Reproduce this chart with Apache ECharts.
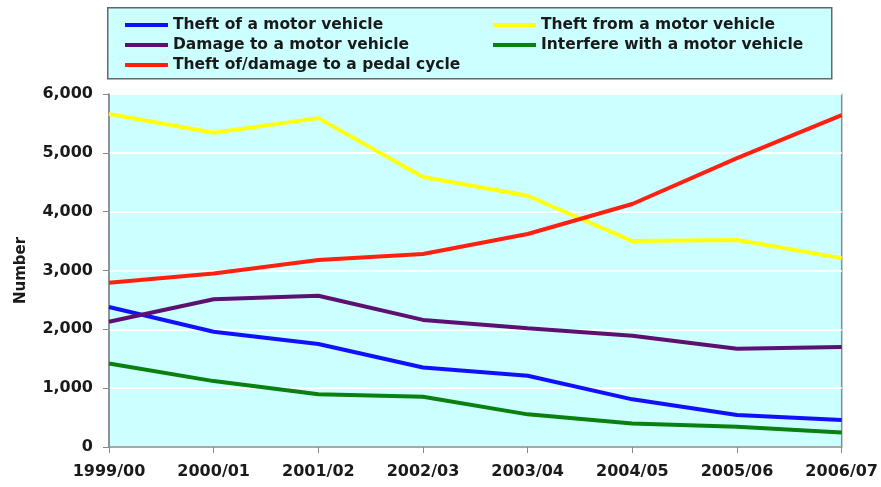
<!DOCTYPE html>
<html>
<head>
<meta charset="utf-8">
<script src="https://cdn.jsdelivr.net/npm/echarts@6/dist/echarts.min.js"></script>
<style>
html,body{margin:0;padding:0;background:#fff;}
#c{width:881px;height:487px;}
</style>
</head>
<body>
<div id="c"></div>
<script>
const categories = ['1999/00','2000/01','2001/02','2002/03','2003/04','2004/05','2005/06','2006/07'];
const theftOfMotor   = [2380, 1960, 1750, 1350, 1210, 810, 545, 460];
const theftFromMotor = [5660, 5340, 5590, 4590, 4270, 3500, 3520, 3210];
const damageMotor    = [2130, 2510, 2570, 2160, 2020, 1890, 1670, 1700];
const interfereMotor = [1420, 1120, 895, 855, 555, 400, 345, 245];
const pedalCycle     = [2790, 2950, 3180, 3280, 3620, 4130, 4910, 5640];
const yTicks = [0, 1000, 2000, 3000, 4000, 5000, 6000];

const FONT = 'DejaVu Sans';
const chart = echarts.init(document.getElementById('c'), null, {renderer:'canvas'});

function mk(name, data, color){
  return {name, type:'line', data, symbol:'none', smooth:false,
    lineStyle:{color, width:4}, itemStyle:{color}, z:3};
}

const legendText = {fontFamily:FONT, fontWeight:'bold', fontSize:15.5, color:'#1a1a1a', lineHeight:16};

chart.setOption({
  animation:false,
  backgroundColor:'#ffffff',
  graphic:[{type:'rect', left:107, top:7, z:-1,
    shape:{width:724, height:71},
    style:{fill:'#ccffff', stroke:'#666666', lineWidth:1.5}}],
  legend:[
    {orient:'vertical', left:120, top:12, itemWidth:43, itemHeight:4, itemGap:4, icon:'rect',
     textStyle:legendText,
     data:['Theft of a motor vehicle','Damage to a motor vehicle','Theft of/damage to a pedal cycle']},
    {orient:'vertical', left:488, top:12, itemWidth:43, itemHeight:4, itemGap:4, icon:'rect',
     textStyle:legendText,
     data:['Theft from a motor vehicle','Interfere with a motor vehicle']}
  ],
  grid:{left:109, right:36, top:94, bottom:40, show:true, backgroundColor:'#ccffff', borderColor:'#8a8a8a', borderWidth:1.5},
  xAxis:{type:'category', data:categories, boundaryGap:false,
    axisLine:{lineStyle:{color:'#8a8a8a', width:1.5}},
    axisTick:{show:true, length:6, lineStyle:{color:'#8a8a8a'}},
    axisLabel:{fontFamily:FONT, fontWeight:'bold', fontSize:16, color:'#1a1a1a', margin:17}},
  yAxis:{type:'value', min:0, max:6000, interval:1000,
    name:'Number', nameLocation:'middle', nameGap:80,
    nameTextStyle:{fontFamily:FONT, fontWeight:'bold', fontSize:15, color:'#1a1a1a'},
    axisLine:{show:true, lineStyle:{color:'#8a8a8a', width:1.5}},
    axisTick:{show:true, length:6, lineStyle:{color:'#8a8a8a'}},
    splitLine:{show:true, lineStyle:{color:'#ffffff', width:2}},
    axisLabel:{fontFamily:FONT, fontWeight:'bold', fontSize:16, color:'#1a1a1a', margin:16,
      formatter:v => yTicks.includes(v) ? v.toLocaleString('en-US') : ''}},
  series:[
    mk('Theft of a motor vehicle', theftOfMotor, '#1010ff'),
    mk('Theft from a motor vehicle', theftFromMotor, '#ffff10'),
    mk('Damage to a motor vehicle', damageMotor, '#5e1070'),
    mk('Interfere with a motor vehicle', interfereMotor, '#0a8010'),
    mk('Theft of/damage to a pedal cycle', pedalCycle, '#ff2010')
  ]
});
</script>
</body>
</html>
